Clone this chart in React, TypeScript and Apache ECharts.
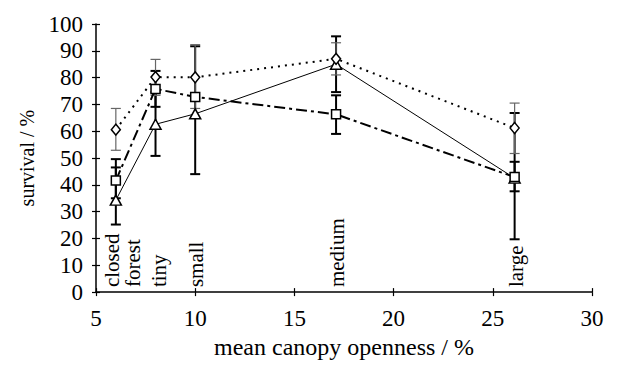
import React, { useEffect, useRef } from "react";
import * as echarts from "echarts";

const categoryNames = ["closed\nforest", "tiny", "small", "medium", "large"];
const xPositions = [6, 8, 10, 17.1, 26.1];
const labelShift = [7, 3, 1, 1, 1];

const diamondVals = [60.6, 80.2, 80.1, 87, 61.2];
const squareVals = [41.6, 75.8, 72.8, 66.3, 42.9];
const triangleVals = [34.3, 62.6, 66.5, 85, 42.5];

const diamondLow = [52.9, 73.4, 68.5, 81, 51.7];
const diamondHigh = [68.5, 86.8, 92.3, 93, 70.5];
const squareLow = [35, 69.1, null, 59, 37.6];
const squareHigh = [49.6, 82.5, null, 73.4, 48.6];
const triangleLow = [25.2, 50.8, 44, 74.6, 19.7];
const triangleHigh = [46.5, 74.6, 91.7, 95.4, 66.8];

const FONT = "'Liberation Serif', 'Times New Roman', serif";

function pts(vals: number[]) {
  return xPositions.map((x, i) => [x, vals[i]]);
}

function errData(low: (number | null)[], high: (number | null)[]) {
  const out: number[][] = [];
  xPositions.forEach((x, i) => {
    if (low[i] != null && high[i] != null) out.push([x, low[i] as number, high[i] as number]);
  });
  return out;
}

function errSeries(low: (number | null)[], high: (number | null)[], color: string, width: number) {
  return {
    type: "custom",
    silent: true,
    z: 3,
    data: errData(low, high),
    renderItem: (params: any, api: any) => {
      const x = api.value(0);
      const lo = api.coord([x, api.value(1)]);
      const hi = api.coord([x, api.value(2)]);
      const cw = 5;
      const style = { stroke: color, lineWidth: width };
      return {
        type: "group",
        children: [
          { type: "line", shape: { x1: lo[0], y1: lo[1], x2: hi[0], y2: hi[1] }, style },
          { type: "line", shape: { x1: lo[0] - cw, y1: lo[1], x2: lo[0] + cw, y2: lo[1] }, style },
          { type: "line", shape: { x1: hi[0] - cw, y1: hi[1], x2: hi[0] + cw, y2: hi[1] }, style },
        ],
      };
    },
  };
}

export default function App() {
  const ref = useRef<HTMLDivElement>(null);
  useEffect(() => {
    if (!ref.current) return;
    const chart = echarts.init(ref.current, null, { renderer: "svg" });
    const markerStyle = { color: "#fff", borderColor: "#000", borderWidth: 1.5 };
    const tickStyle = { color: "#000", width: 1.2 };
    chart.setOption({
      animation: false,
      backgroundColor: "#fff",
      grid: { left: 88, right: 17, top: 16, bottom: 67 },
      xAxis: [
        {
          type: "value",
          min: 5,
          max: 30,
          interval: 5,
          name: "mean canopy openness / %",
          nameLocation: "middle",
          nameGap: 38,
          nameTextStyle: { fontFamily: FONT, fontSize: 24, color: "#000" },
          axisLine: { lineStyle: { color: "#000", width: 1.5 } },
          axisTick: { length: 4, lineStyle: tickStyle },
          axisLabel: { fontFamily: FONT, fontSize: 23, color: "#000", margin: 15 },
          splitLine: { show: false },
        },
        {
          type: "value",
          position: "bottom",
          offset: 0,
          min: 5,
          max: 30,
          interval: 5,
          axisLine: { show: false },
          axisTick: { show: true, inside: true, length: 4, lineStyle: tickStyle },
          axisLabel: { show: false },
          splitLine: { show: false },
        },
      ],
      yAxis: [
        {
          type: "value",
          min: 0,
          max: 100,
          interval: 10,
          name: "survival / %",
          nameLocation: "middle",
          nameGap: 59,
          nameTextStyle: { fontFamily: FONT, fontSize: 20, color: "#000" },
          axisLine: { show: true, lineStyle: { color: "#000", width: 1.5 } },
          axisTick: { show: true, length: 4, lineStyle: tickStyle },
          axisLabel: { fontFamily: FONT, fontSize: 23, color: "#000", margin: 13 },
          splitLine: { show: false },
        },
        {
          type: "value",
          position: "left",
          offset: 0,
          min: 0,
          max: 100,
          interval: 10,
          axisLine: { show: false },
          axisTick: { show: true, inside: true, length: 4, lineStyle: tickStyle },
          axisLabel: { show: false },
          splitLine: { show: false },
        },
      ],
      series: [
        errSeries(triangleLow, triangleHigh, "#000", 2),
        errSeries(squareLow, squareHigh, "#000", 2),
        errSeries(diamondLow, diamondHigh, "#666", 1.2),
        {
          type: "line",
          data: pts(triangleVals),
          symbol: "triangle",
          symbolSize: [11, 10],
          z: 4,
          lineStyle: { color: "#000", width: 1 },
          itemStyle: markerStyle,
        },
        {
          type: "line",
          data: pts(squareVals),
          symbol: "rect",
          symbolSize: 9,
          z: 4,
          lineStyle: { color: "#000", width: 2, type: [11, 4, 3, 4] },
          itemStyle: markerStyle,
        },
        {
          type: "line",
          data: pts(diamondVals),
          symbol: "diamond",
          symbolSize: [9, 11],
          z: 4,
          lineStyle: { color: "#000", width: 2, type: [2, 5] },
          itemStyle: markerStyle,
        },
        {
          type: "custom",
          silent: true,
          z: 5,
          data: xPositions.map((x, i) => [x, 0, i]),
          renderItem: (params: any, api: any) => {
            const i = api.value(2);
            const p = api.coord([api.value(0), 0]);
            return {
              type: "text",
              x: p[0] + labelShift[i],
              y: p[1] - 5,
              rotation: Math.PI / 2,
              style: {
                text: categoryNames[i],
                fontFamily: FONT,
                fontSize: 21,
                lineHeight: 21,
                fill: "#000",
                align: "left",
                verticalAlign: "middle",
              },
            };
          },
        },
      ],
    });
    return () => chart.dispose();
  }, []);
  return <div ref={ref} style={{ width: 601, height: 356 }} />;
}
